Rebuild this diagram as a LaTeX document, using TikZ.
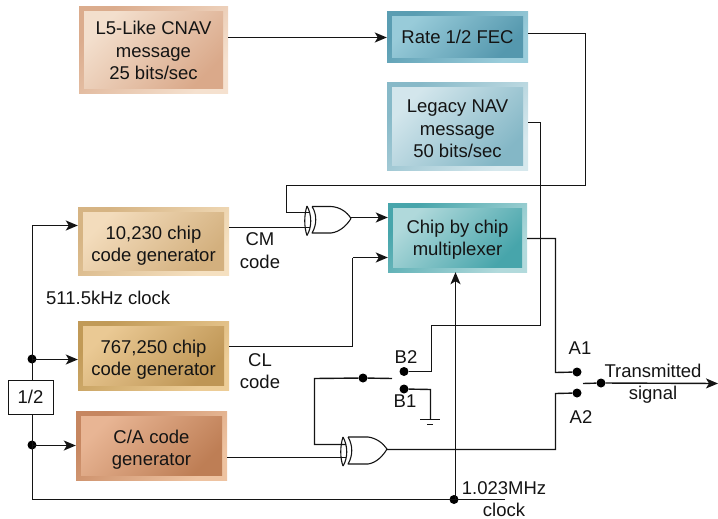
\documentclass[tikz,border=0pt]{standalone}
\usepackage{fontspec}
\setmainfont{Liberation Sans}
\usetikzlibrary{arrows.meta,calc}
\definecolor{ink}{HTML}{141414}
\tikzset{
  wire/.style={draw=ink,line width=1.4pt},
  arrowwire/.style={wire,-{Stealth[length=12pt,width=10pt,inset=3pt]}},
  dot/.style={circle,fill=black,inner sep=0pt,minimum size=9pt},
  lbl/.style={text=ink,align=center,inner sep=0pt,font=\fontsize{18.5}{22.4}\selectfont},
  gate/.style={draw=ink,line width=1.1pt,line join=round},
  plainbox/.style={draw=ink,line width=0.9pt,fill=white,inner sep=0pt}
}
% name, x1, y1, x2, y2, outerdark, outerlight, innerlight/innerdark/text shift, text
\def\splitcols#1/#2/#3\relax{\def\colA{#1}\def\colB{#2}\def\tyoff{#3}}
\newcommand\bevelbox[9]{%
  \pgfmathsetmacro\bw{#4-#2}\pgfmathsetmacro\bh{#5-#3}%
  \pgfmathsetmacro\bx{(#2+#4)/2}\pgfmathsetmacro\by{(#3+#5)/2}%
  \pgfmathsetmacro\iw{\bw-10}\pgfmathsetmacro\ih{\bh-10}%
  \splitcols#8\relax
  \pgfmathsetmacro\ty{\by+\tyoff}%
  \node[minimum width=\bw pt,minimum height=\bh pt,inner sep=0pt,
        top color=#6,bottom color=#7,shading angle=45] (#1) at (\bx,\by) {};
  \node[minimum width=\iw pt,minimum height=\ih pt,inner sep=0pt,
        top color=\colA,bottom color=\colB,shading angle=45] (#1in) at (\bx,\by) {};
  \node[lbl] (#1txt) at (\bx,\ty) {#9};
}
\definecolor{ao}{HTML}{DBAC8D}\definecolor{al}{HTML}{F5E1CF}\definecolor{ai}{HTML}{F3DFCD}\definecolor{ad}{HTML}{DAA98A}
\definecolor{bo}{HTML}{D6B483}\definecolor{bl}{HTML}{F5E0C0}\definecolor{bi}{HTML}{F3DCBC}\definecolor{bd}{HTML}{D3B07E}
\definecolor{co}{HTML}{C19A57}\definecolor{cl}{HTML}{EDCD97}\definecolor{ci}{HTML}{EAC994}\definecolor{cd}{HTML}{BF9655}
\definecolor{do}{HTML}{C68660}\definecolor{dl}{HTML}{EEC3A1}\definecolor{di}{HTML}{E8B594}\definecolor{dd}{HTML}{BE7E55}
\definecolor{eo}{HTML}{5A9DB2}\definecolor{el}{HTML}{9BCDDB}\definecolor{ei}{HTML}{98CBD9}\definecolor{ed}{HTML}{5598AE}
\definecolor{fo}{HTML}{87B9C8}\definecolor{fl}{HTML}{D6E8ED}\definecolor{fi}{HTML}{D3E6EC}\definecolor{fd}{HTML}{84B7C6}
\definecolor{go}{HTML}{47A5AB}\definecolor{gl}{HTML}{B2DADC}\definecolor{gi}{HTML}{B0D9DB}\definecolor{gd}{HTML}{47A5AB}
\begin{document}
\begin{tikzpicture}[x=1pt,y=-1pt]
\useasboundingbox (0,0) rectangle (718,519);
% boxes
\bevelbox{lf}{79}{7}{228}{94}{ao}{al}{ai/ad/0}{L5-Like CNAV\\message\\25 bits/sec}
\bevelbox{cm}{78}{207}{229}{275}{bo}{bl}{bi/bd/5}{10,230 chip\\code generator}
\bevelbox{cg}{78}{321}{229}{390}{co}{cl}{ci/cd/4}{767,250 chip\\code generator}
\bevelbox{ca}{76}{411}{227}{480}{do}{dl}{di/dd/4.5}{C/A code\\generator}
\bevelbox{fec}{387}{12}{528}{63}{eo}{el}{ei/ed/-0.5}{Rate 1/2 FEC}
\bevelbox{nav}{387}{83}{528}{170}{fo}{fl}{fi/fd/2.5}{Legacy NAV\\message\\50 bits/sec}
\bevelbox{mux}{388}{203}{527}{272}{go}{gl}{gi/gd/2}{Chip by chip\\multiplexer}
\node[plainbox,minimum width=45pt,minimum height=34pt,lbl] (half) at (30.5,397) {1/2};
% junctions and switch contacts
\node[dot] (jcg) at (32,359) {};
\node[dot] (jca) at (32,445) {};
\node[dot] (jclk) at (454,499.5) {};
\node[dot] (jsw) at (363,378) {};
\node[dot] (ba) at (404,371.5) {};
\node[dot] (bb) at (404,389) {};
\node[dot] (aa) at (577,372) {};
\node[dot] (ab) at (577,393) {};
\node[dot] (jout) at (601,383) {};
\coordinate (swl) at (392,378.5);
\coordinate (swo) at (583,383.5);
\coordinate (outend) at (718,383.5);
\coordinate (clkend) at (505,499.5);
\coordinate (gnd) at (430.5,419.5);
% XOR gates
\coordinate (xa1) at (310,212.5);
\coordinate (xa2) at (310,227.5);
\coordinate (xaout) at (351,217.5);
\coordinate (xb1) at (346,444.5);
\coordinate (xb2) at (346,457.5);
\coordinate (xbout) at (387,449.5);
\draw[gate] (312,206.5) -- (331,206.5) .. controls (340,207) and (347,212) .. (351,218.5)
  .. controls (347,225) and (340,232) .. (331,233) -- (312,233)
  .. controls (317,225) and (317,214) .. (312,206.5);
\draw[gate] (307,206) .. controls (312,215) and (312,227) .. (307,235.5);
\draw[gate] (307,206) .. controls (304,215) and (304,227) .. (307,235.5);
\draw[gate] (348,437) -- (368,437) .. controls (376,438) and (383,443) .. (387,449)
  .. controls (383,456) and (376,463) .. (368,464) -- (348,464)
  .. controls (353,456) and (353,445) .. (348,437);
\draw[gate] (343,437) .. controls (348,446) and (348,458) .. (343,466);
\draw[gate] (343,437) .. controls (340,446) and (340,458) .. (343,466);
% connectors
\draw[arrowwire] (lf.east |- fec.west) -- (fec.west);
\draw[wire] (fec.east |- 0,33.5) -- (585.5,33.5) -- (585.5,185.5) -- (286.5,185.5) -- (286.5,212.5) -- (xa1);
\draw[wire] (cm.east |- xa2) -- (xa2);
\draw[arrowwire] (xaout) -- (mux.west |- xaout);
\draw[wire] (cg.east |- 0,346.5) -- (352.5,346.5) -- (352.5,257.5);
\draw[arrowwire] (352.5,257.5) -- (mux.west |- 0,257.5);
\draw[wire] (nav.east |- 0,122.5) -- (540.5,122.5) -- (540.5,325.5) -- (431.5,325.5) -- (431.5,371.5) -- (ba);
\draw[wire] (bb) -- (430.5,389.5) -- (gnd);
\draw[wire] (420,419.5) -- (440,419.5);
\draw[wire,line width=0.9pt] (427,424.5) -- (433,424.5);
\draw[wire] (swl) -- (jsw) -- (314.5,378.5) -- (314.5,444.5) -- (xb1);
\draw[wire] (ca.east |- xb2) -- (xb2);
\draw[wire] (xbout) -- (555.5,449.5) -- (555.5,393.5) -- (ab);
\draw[wire] (mux.east |- 0,238.5) -- (555.5,238.5) -- (555.5,372.5) -- (aa);
\draw[arrowwire] (swo) -- (jout) -- (outend);
\draw[arrowwire] (32.5,380) -- (32.5,225.5) -- (cm.west |- 0,225.5);
\draw[arrowwire] (32.5,359.5) -- (cg.west |- 0,359.5);
\draw[arrowwire] (32.5,445.5) -- (ca.west |- 0,445.5);
\draw[wire] (32.5,414) -- (32.5,499.5) -- (clkend);
\draw[arrowwire] (455.5,499.5) -- (mux.south -| 455.5,0);
% labels
\node[lbl] (tcm) at (260,250.5) {CM\\code};
\node[lbl] (tcl) at (260,371) {CL\\code};
\node[lbl,anchor=west] (tclk) at (46,298) {511.5kHz clock};
\node[lbl] (tb2) at (406,357) {B2};
\node[lbl] (tb1) at (405,401) {B1};
\node[lbl] (ta1) at (580,348) {A1};
\node[lbl] (ta2) at (581,417) {A2};
\node[lbl] (ttx) at (653,383.5) {Transmitted\\signal};
\node[lbl] (tmhz) at (504,499) {1.023MHz\\clock};
\end{tikzpicture}
\end{document}
